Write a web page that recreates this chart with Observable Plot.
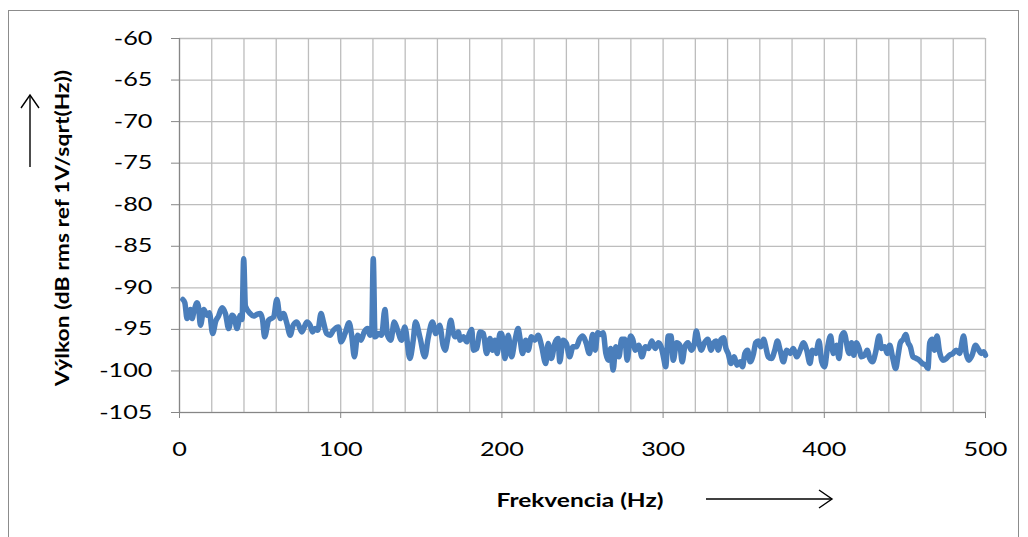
<!DOCTYPE html>
<html>
<head>
<meta charset="utf-8">
<script src="https://cdn.jsdelivr.net/npm/d3@7"></script>
<script src="https://cdn.jsdelivr.net/npm/@observablehq/plot@0.6"></script>
<style>
  html, body { margin: 0; padding: 0; background: #fff; }
  #wrap { position: relative; width: 1028px; height: 537px; overflow: hidden; background: #fff; font-family: Lato, "Open Sans", sans-serif; }
  #frame { position: absolute; left: 8px; top: 10px; width: 1011px; height: 560px; border: 1px solid #8c8c8c; box-sizing: border-box; }
  #chart { position: absolute; left: 0; top: 0; }
  .title { position: absolute; font-weight: bold; font-size: 18px; color: #000; white-space: nowrap; }
  #ytitle { left: 62px; top: 228px; transform: translate(-50%, -50%) rotate(-90deg) scaleX(1.27); }
  #xtitle { left: 580px; top: 500px; transform: translate(-50%, -50%) scaleX(1.36); }
  #arrows { position: absolute; left: 0; top: 0; }
</style>
</head>
<body>
<div id="wrap">
  <div id="frame"></div>
  <div id="chart"></div>
  <div class="title" id="ytitle">Výlkon (dB rms ref 1V/sqrt(Hz))</div>
  <div class="title" id="xtitle">Frekvencia (Hz)</div>
  <svg id="arrows" width="1028" height="537">
    <g stroke="#000" stroke-width="1.4" fill="none">
      <line x1="706" y1="499" x2="832" y2="499"></line>
      <polyline points="819,490 832,499 819,508"></polyline>
      <line x1="30" y1="167" x2="30" y2="95"></line>
      <polyline points="21,108 30,95 39,108"></polyline>
    </g>
  </svg>
</div>
<script>
const yTicks = [-60, -65, -70, -75, -80, -85, -90, -95, -100, -105];
const xTicks = [0, 100, 200, 300, 400, 500];
const xGrid = [0, 20, 40, 60, 80, 100, 120, 140, 160, 180, 200, 220, 240, 260, 280, 300, 320, 340, 360, 380, 400, 420, 440, 460, 480, 500];

const freqHz = [
  2.1, 3.3, 4.7, 5.8, 6.8, 7.8, 9.0, 10.9, 11.8, 13.0, 15.1, 17.1, 18.5, 20.6, 22.5, 24.2, 26.4, 28.5, 30.5, 32.6,
  34.0, 35.7, 37.7, 38.8, 39.8, 40.9, 43.9, 46.0, 48.0, 50.1, 51.5, 52.8, 55.3, 58.4, 60.4, 62.5, 64.5, 66.5, 68.7, 70.5,
  72.8, 75.9, 79.0, 81.0, 82.5, 84.1, 85.8, 87.8, 89.3, 91.3, 93.4, 95.5, 98.6, 100.2, 102.7, 105.2, 106.8, 108.5, 110.5, 112.6,
  114.6, 116.7, 118.1, 119.2, 120.2, 121.3, 123.7, 125.4, 127.4, 129.0, 131.1, 133.2, 135.3, 137.7, 139.8, 142.9, 145.0, 146.4, 149.1, 152.2,
  154.2, 156.9, 159.0, 161.4, 163.5, 164.8, 166.2, 168.3, 169.9, 171.0, 173.0, 174.1, 176.1, 178.2, 179.8, 181.3, 182.3, 184.4, 186.4, 188.5,
  190.5, 192.6, 194.2, 195.7, 197.1, 198.8, 199.8, 201.9, 203.9, 206.0, 208.1, 210.1, 211.1, 212.8, 214.8, 216.3, 218.3, 220.4, 222.5, 224.5,
  227.2, 228.7, 230.7, 232.8, 234.8, 235.9, 237.9, 240.0, 242.0, 244.1, 246.2, 248.1, 250.2, 252.2, 254.3, 256.3, 257.9, 259.4, 261.4, 262.8,
  264.5, 266.1, 267.5, 269.0, 270.6, 272.6, 274.3, 276.3, 277.7, 279.8, 281.2, 282.8, 284.9, 286.9, 289.0, 291.0, 293.0, 295.1, 297.1, 298.8,
  300.2, 301.6, 303.2, 304.9, 306.3, 308.4, 310.4, 311.8, 313.5, 315.5, 317.5, 319.2, 320.6, 322.0, 323.7, 325.7, 327.7, 329.8, 331.4, 332.8,
  334.2, 335.9, 337.5, 339.0, 340.4, 342.1, 344.1, 345.8, 347.8, 349.3, 350.7, 352.4, 354.0, 356.1, 357.5, 359.0, 360.6, 362.3, 363.7, 365.2,
  367.2, 369.3, 370.9, 372.6, 374.6, 376.7, 378.8, 380.8, 382.9, 385.0, 387.0, 389.1, 391.1, 392.6, 394.7, 396.7, 398.4, 400.2, 401.9, 403.9,
  405.6, 407.6, 409.1, 410.7, 412.2, 415.4, 416.9, 418.3, 420.0, 421.6, 423.1, 425.1, 426.6, 428.2, 429.9, 431.9, 434.0, 435.5, 437.5, 439.0,
  440.6, 442.3, 444.3, 445.8, 447.2, 448.9, 450.5, 452.0, 453.4, 455.0, 457.1, 458.8, 460.8, 462.9, 464.3, 465.4, 467.0, 468.4, 469.9, 471.5,
  473.6, 475.7, 477.7, 479.8, 481.8, 483.9, 486.4, 488.0, 489.7, 491.7, 493.8, 495.9, 497.3, 498.8, 500.0
];

const levelDb = [
  -91.4, -91.8, -93.7, -93.0, -92.6, -93.7, -92.8, -91.8, -92.3, -94.5, -92.6, -93.3, -93.0, -95.5, -94.0, -93.4, -92.4, -93.1, -94.9, -93.3,
  -93.6, -94.9, -93.3, -93.8, -86.5, -92.2, -93.1, -93.4, -93.2, -93.1, -93.8, -95.9, -93.9, -93.5, -91.4, -93.7, -93.1, -94.2, -95.7, -94.5,
  -94.1, -95.3, -94.1, -94.5, -95.3, -94.9, -95.1, -93.1, -94.1, -95.5, -95.7, -95.1, -94.7, -96.5, -95.5, -94.2, -95.7, -98.3, -95.7, -96.3,
  -95.3, -94.9, -95.7, -95.4, -86.5, -95.9, -95.5, -95.7, -92.6, -95.7, -96.3, -94.1, -95.1, -96.3, -94.7, -98.5, -96.3, -94.1, -95.9, -98.3,
  -96.1, -94.1, -95.5, -94.5, -96.9, -97.5, -96.3, -93.9, -95.5, -95.9, -95.3, -96.3, -95.9, -96.5, -95.5, -95.0, -97.5, -97.3, -95.3, -95.5,
  -97.9, -96.1, -97.5, -96.3, -97.9, -95.5, -95.5, -98.5, -95.7, -98.3, -96.3, -94.9, -95.9, -97.9, -96.3, -97.5, -95.9, -96.3, -95.7, -96.9,
  -99.1, -96.7, -98.5, -96.7, -96.1, -98.9, -96.3, -96.7, -98.3, -97.1, -97.1, -96.2, -95.8, -96.6, -97.9, -95.6, -97.5, -95.4, -95.6, -95.4,
  -97.9, -98.7, -97.3, -99.9, -97.1, -98.3, -96.2, -96.2, -98.7, -95.8, -96.2, -97.5, -96.9, -98.3, -97.1, -97.3, -96.4, -97.3, -96.6, -97.1,
  -98.3, -99.5, -95.8, -95.8, -98.7, -96.6, -96.9, -98.9, -97.1, -96.6, -97.5, -96.9, -95.2, -96.4, -97.5, -96.6, -96.2, -97.5, -96.6, -96.4,
  -97.5, -96.2, -96.0, -97.3, -97.9, -99.1, -98.3, -99.3, -98.9, -99.5, -97.9, -97.5, -98.9, -97.9, -96.6, -96.4, -97.1, -96.2, -97.1, -98.3,
  -98.5, -97.5, -96.4, -97.5, -98.9, -97.5, -97.9, -97.3, -98.3, -97.5, -96.6, -97.5, -99.1, -97.5, -97.9, -96.4, -98.9, -99.5, -97.3, -95.8,
  -97.9, -96.9, -98.5, -95.8, -95.4, -97.9, -96.6, -98.1, -96.6, -97.3, -98.3, -98.1, -97.5, -98.5, -98.9, -97.7, -95.8, -97.3, -97.1, -97.9,
  -96.9, -98.3, -99.7, -98.1, -96.6, -96.2, -95.6, -96.6, -97.1, -98.3, -98.5, -98.7, -99.1, -99.3, -99.7, -96.6, -96.2, -97.5, -95.8, -97.7,
  -98.7, -98.5, -98.1, -97.9, -97.5, -97.9, -95.8, -97.9, -98.7, -98.1, -96.9, -97.5, -97.9, -97.7, -98.1
];

const data = freqHz.map((f, i) => ({freq: f, level: levelDb[i]}));

const chart = Plot.plot({
  width: 1028,
  height: 537,
  marginLeft: 179,
  marginRight: 43,
  marginTop: 38,
  marginBottom: 125,
  style: {background: "transparent", fontFamily: "Lato, 'Open Sans', sans-serif", color: "#000"},
  x: {domain: [0, 500]},
  y: {domain: [-105, -60]},
  marks: [
    Plot.gridX(xGrid, {stroke: "#bdbdbd", strokeOpacity: 1, strokeWidth: 1.3}),
    Plot.gridY(yTicks, {stroke: "#bdbdbd", strokeOpacity: 1, strokeWidth: 1.3}),
    Plot.ruleX([0], {stroke: "#868686", strokeWidth: 1.2}),
    Plot.ruleY([-105], {stroke: "#868686", strokeWidth: 1.2}),
    Plot.axisY(yTicks, {tickSize: 8, tickPadding: 19, fontSize: 19, label: null, stroke: "#868686", tickFormat: d => String(d).replace("\u2212", "-")}),
    Plot.axisX(xTicks, {tickSize: 6, tickPadding: 24, fontSize: 19, label: null, stroke: "#868686", tickFormat: d => String(d)}),
    Plot.lineY(data, {x: "freq", y: "level", stroke: "#4a7ebb", strokeWidth: 5.5, strokeLinejoin: "round", strokeLinecap: "round", curve: "monotone-x"})
  ]
});

document.getElementById("chart").appendChild(chart);

// widen tick label glyphs to match the stretched look of the original
chart.querySelectorAll("g[aria-label='y-axis tick label'] text, g[aria-label='x-axis tick label'] text").forEach(t => {
  const tr = t.getAttribute("transform") || "";
  t.setAttribute("transform", tr + " scale(1.33,1)");
  t.setAttribute("fill", "#000");
});
</script>
</body>
</html>
